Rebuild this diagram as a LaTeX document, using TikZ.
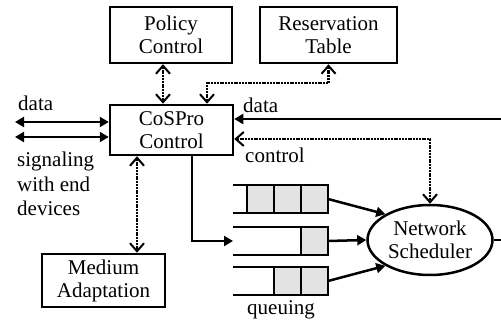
\documentclass[tikz,border=0pt]{standalone}
\usepackage{fontspec}
\setmainfont{Liberation Serif}
\usetikzlibrary{arrows.meta,shapes.geometric}

\tikzset{
  blk/.style={draw,line width=2.5pt,inner sep=0pt,align=center,font=\fontsize{21}{23}\selectfont},
  lbl/.style={inner sep=0pt,align=left,font=\fontsize{21}{24.5}\selectfont},
  sig/.style={line width=2.5pt,-{Triangle[length=9pt,width=10pt]}},
  sigboth/.style={line width=2.5pt,{Triangle[length=9pt,width=10pt]}-{Triangle[length=9pt,width=10pt]}},
  ctlboth/.style={line width=2.5pt,dash pattern=on 2pt off 0.8pt,
    {Straight Barb[length=8pt,width=14pt,line width=2pt]}-{Straight Barb[length=8pt,width=14pt,line width=2pt]}},
  qline/.style={line width=2.5pt},
  qcell/.style={fill=gray!22},
}

\begin{document}
\begin{tikzpicture}[x=1pt,y=-1pt]
\useasboundingbox (0,0) rectangle (501,320);
\node[blk,minimum width=122pt,minimum height=56pt] (policy) at (171,35) {Policy\\Control};
\node[blk,minimum width=137pt,minimum height=56pt] (resv) at (328.5,35) {Reservation\\Table};
\node[blk,minimum width=123pt,minimum height=50pt] (cospro) at (171.5,130) {CoSPro\\Control};
\node[blk,minimum width=123pt,minimum height=53pt] (medium) at (103.5,280.5) {Medium\\Adaptation};
\node[blk,ellipse,minimum width=125pt,minimum height=70pt] (sched) at (430,240) {Network\\Scheduler};

\node[lbl,anchor=base west] (datal) at (18,111) {data};
\node[lbl,anchor=base west] (sigl) at (17,216) {signaling\\with end\\devices};
\node[lbl,anchor=base west] (datar) at (243,113) {data};
\node[lbl,anchor=base west] (ctll) at (245,163) {control};
\node[lbl,anchor=base west] (queuel) at (247,315) {queuing};

\coordinate (dl) at (15,122);
\coordinate (sl) at (15,137);
\coordinate (dr) at (501,119);
\coordinate (ctlturn) at (430,139);
\coordinate (resturn) at (207,83);
\coordinate (polink) at (163,0);
\coordinate (medlink) at (137,0);
\coordinate (cosq) at (192,0);
\coordinate (qin) at (233,241);
\coordinate (q1) at (328,199);
\coordinate (q2) at (328,241);
\coordinate (q3) at (328,281);
\coordinate (out) at (501,240);

\fill[qcell] (247,185) rectangle (328,213);
\draw[qline] (233,185) -- (328,185) -- (328,213) -- (233,213);
\draw[qline] (247,185) -- (247,213);
\draw[qline] (274,185) -- (274,213);
\draw[qline] (301,185) -- (301,213);
\fill[qcell] (301,227) rectangle (328,255);
\draw[qline] (233,227) -- (328,227) -- (328,255) -- (233,255);
\draw[qline] (301,227) -- (301,255);
\fill[qcell] (274,267) rectangle (328,295);
\draw[qline] (233,267) -- (328,267) -- (328,295) -- (233,295);
\draw[qline] (274,267) -- (274,295);
\draw[qline] (301,267) -- (301,295);

\draw[sigboth] (dl) -- (dl -| cospro.west);
\draw[sigboth] (sl) -- (sl -| cospro.west);
\draw[sig] (dr) -- (dr -| cospro.east);
\draw[ctlboth] (ctlturn -| cospro.east) -- (ctlturn) -- (sched.north);
\draw[ctlboth] (resturn |- cospro.north) -- (resturn) -- (resturn -| resv.south) -- (resv.south);
\draw[ctlboth] (polink |- policy.south) -- (polink |- cospro.north);
\draw[ctlboth] (medlink |- cospro.south) -- (medlink |- medium.north);
\draw[sig] (cosq |- cospro.south) |- (qin);
\draw[sig] (q1) -- (sched.150);
\draw[sig] (q2) -- (sched.west);
\draw[sig] (q3) -- (sched.210);
\draw[line width=2.5pt] (sched.east) -- (out);
\end{tikzpicture}
\end{document}
